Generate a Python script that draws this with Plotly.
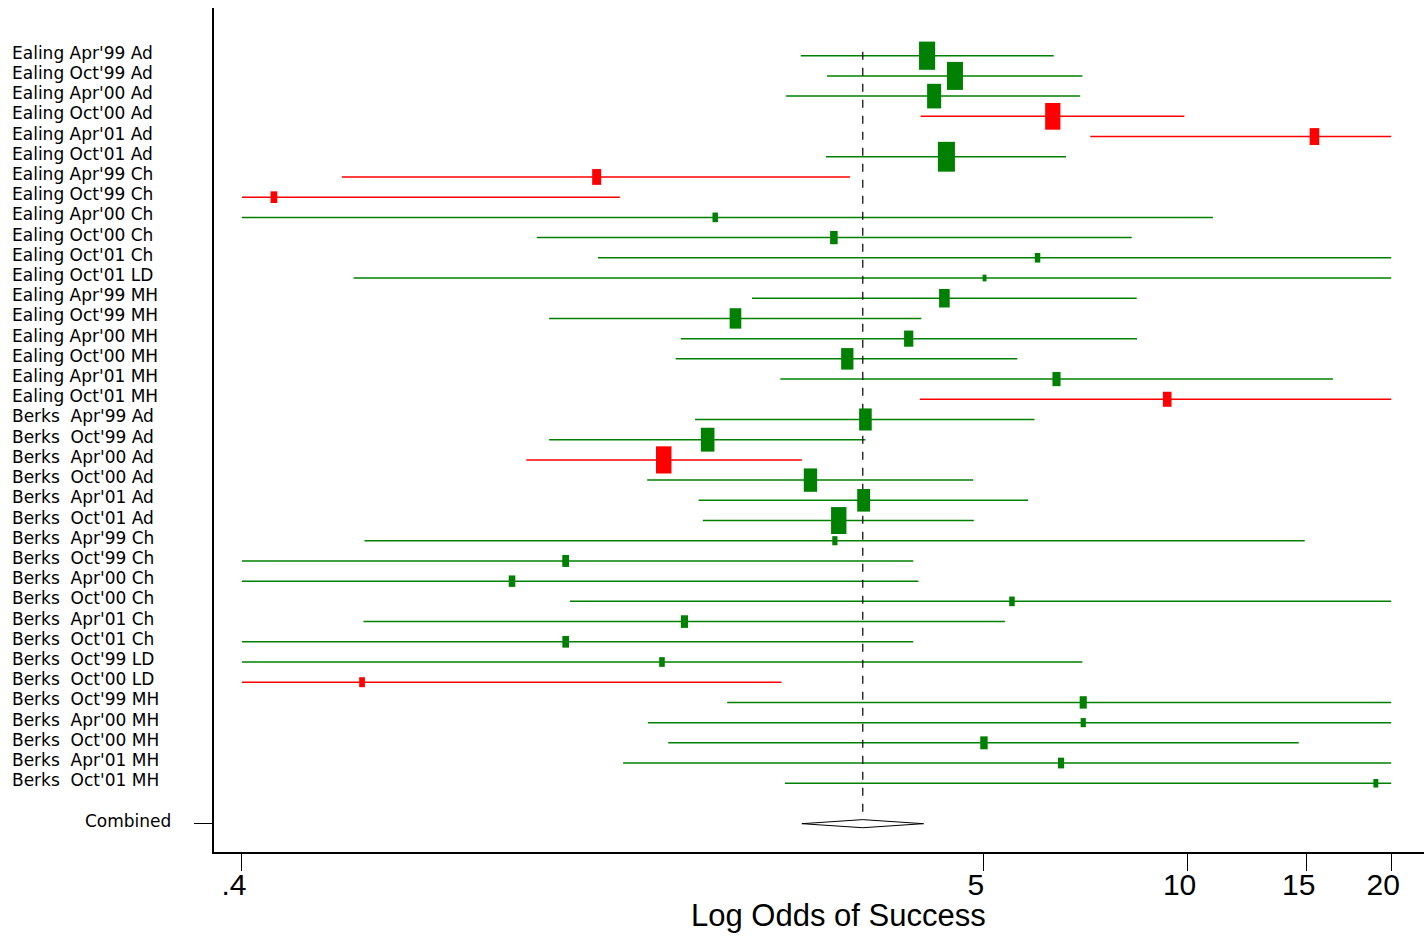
import math
import plotly.graph_objects as go

# ---------------- data ----------------
studies = [
    "Ealing Apr'99 Ad", "Ealing Oct'99 Ad", "Ealing Apr'00 Ad", "Ealing Oct'00 Ad",
    "Ealing Apr'01 Ad", "Ealing Oct'01 Ad", "Ealing Apr'99 Ch", "Ealing Oct'99 Ch",
    "Ealing Apr'00 Ch", "Ealing Oct'00 Ch", "Ealing Oct'01 Ch", "Ealing Oct'01 LD",
    "Ealing Apr'99 MH", "Ealing Oct'99 MH", "Ealing Apr'00 MH", "Ealing Oct'00 MH",
    "Ealing Apr'01 MH", "Ealing Oct'01 MH",
    "Berks  Apr'99 Ad", "Berks  Oct'99 Ad", "Berks  Apr'00 Ad", "Berks  Oct'00 Ad",
    "Berks  Apr'01 Ad", "Berks  Oct'01 Ad", "Berks  Apr'99 Ch", "Berks  Oct'99 Ch",
    "Berks  Apr'00 Ch", "Berks  Oct'00 Ch", "Berks  Apr'01 Ch", "Berks  Oct'01 Ch",
    "Berks  Oct'99 LD", "Berks  Oct'00 LD", "Berks  Oct'99 MH", "Berks  Apr'00 MH",
    "Berks  Oct'00 MH", "Berks  Apr'01 MH", "Berks  Oct'01 MH",
]
estimate = [4.12, 4.53, 4.22, 6.32, 15.4, 4.40, 1.338, 0.446, 2.003, 3.00, 6.00, 5.01,
            4.37, 2.146, 3.87, 3.14, 6.40, 9.33,
            3.34, 1.952, 1.681, 2.77, 3.32, 3.05, 3.01, 1.204, 1.003, 5.50, 1.804, 1.204,
            1.671, 0.602, 7.01, 7.01, 5.00, 6.50, 18.98]
lower = [2.68, 2.93, 2.55, 4.03, 7.18, 2.92, 0.562, 0.4, 0.4, 1.091, 1.344, 0.585,
         2.27, 1.138, 1.781, 1.751, 2.50, 4.02,
         1.87, 1.138, 1.053, 1.589, 1.893, 1.92, 0.607, 0.4, 0.4, 1.221, 0.605, 0.4,
         0.4, 0.4, 2.086, 1.593, 1.707, 1.464, 2.54]
upper = [6.34, 6.99, 6.94, 9.89, 20, 6.61, 3.17, 1.448, 10.90, 8.27, 20, 20,
         8.41, 4.04, 8.42, 5.60, 16.4, 20,
         5.94, 3.34, 2.69, 4.82, 5.81, 4.83, 14.9, 3.93, 4.00, 20, 5.37, 3.93,
         6.99, 2.51, 20, 20, 14.6, 20, 20]
weight = [6.7, 6.6, 5.1, 6.0, 2.4, 7.5, 2.1, 1.15, 0.78, 1.48, 0.78, 0.39,
          2.9, 3.5, 2.2, 3.9, 1.7, 1.9,
          4.1, 4.8, 6.2, 4.6, 4.3, 6.1, 0.70, 1.2, 1.1, 0.78, 1.34, 1.15,
          0.80, 0.84, 1.3, 0.70, 1.42, 0.97, 0.62]
flagged = [0, 0, 0, 1, 1, 0, 1, 1, 0, 0, 0, 0,
           0, 0, 0, 0, 0, 1,
           0, 0, 1, 0, 0, 0, 0, 0, 0, 0, 0, 0,
           0, 1, 0, 0, 0, 0, 0]
combined_label = "Combined"
combined = {"est": 3.31, "lo": 2.69, "hi": 4.07}
tick_vals = [0.4, 5, 10, 15, 20]
tick_text = [".4", "5", "10", "15", "20"]
x_title = "Log Odds of Success"

GREEN = "#008000"
RED = "#ff0000"
FONT = "Liberation Sans, Arial, sans-serif"
LABEL_FONT = "DejaVu Sans, Liberation Sans, sans-serif"

# ---------------- layout constants ----------------
W, H = 1426, 937
L_PX, R_PX, T_PX, B_PX = 214, 1424, 8, 852
n = len(studies)
comb_row = n + 1

fig = go.Figure()

# CI lines
for flag, col in ((0, GREEN), (1, RED)):
    xs, ys = [], []
    for i in range(n):
        if flagged[i] == flag:
            xs += [lower[i], upper[i], None]
            ys += [i, i, None]
    fig.add_trace(go.Scatter(x=xs, y=ys, mode="lines",
                             line=dict(color=col, width=1.5),
                             hoverinfo="skip", showlegend=False))

# reference dashed line at combined estimate
fig.add_trace(go.Scatter(x=[combined["est"], combined["est"]], y=[-0.2, comb_row - 0.2],
                         mode="lines", line=dict(color="black", width=1.2, dash="8px,8px"),
                         hoverinfo="skip", showlegend=False))

# weighted boxes (rectangles drawn as thick vertical line markers)
aspect = 0.8
heights = [math.sqrt(w * 48.5 / aspect) for w in weight]
widths = [h * aspect for h in heights]
cols = [RED if f else GREEN for f in flagged]
fig.add_trace(go.Scatter(x=estimate, y=list(range(n)), mode="markers",
                         marker=dict(symbol="line-ns", size=heights, color=cols, opacity=1,
                                     line=dict(width=widths, color=cols)),
                         hoverinfo="x", showlegend=False))

# combined diamond
dh = 0.2
fig.add_trace(go.Scatter(
    x=[combined["lo"], combined["est"], combined["hi"], combined["est"], combined["lo"]],
    y=[comb_row, comb_row - dh, comb_row, comb_row + dh, comb_row],
    mode="lines", fill="toself", fillcolor="white",
    line=dict(color="black", width=1), hoverinfo="skip", showlegend=False))

# study labels
pw = R_PX - L_PX
for i, s in enumerate(studies):
    fig.add_annotation(x=(12 - L_PX) / pw, xref="paper", y=i, yref="y",
                       text=s, showarrow=False, xanchor="left", yanchor="middle",
                       xshift=-2, yshift=3, font=dict(family=LABEL_FONT, size=17, color="black"))
fig.add_annotation(x=(171 - L_PX) / pw, xref="paper", y=comb_row, yref="y",
                   text=combined_label, showarrow=False, xanchor="right", yanchor="middle",
                   xshift=2, yshift=3, font=dict(family=LABEL_FONT, size=17, color="black"))
# x title
fig.add_annotation(x=(838 - L_PX) / pw, xref="paper", y=-(916 - B_PX) / (B_PX - T_PX),
                   yref="paper", text=x_title, showarrow=False, xanchor="center",
                   yanchor="middle", font=dict(family=FONT, size=31, color="black"))

row_pitch = 20.21
y_top = (T_PX - 55.7) / row_pitch
y_bot = (B_PX - 55.7) / row_pitch

fig.update_layout(
    width=W, height=H, autosize=False,
    margin=dict(l=L_PX, r=W - R_PX, t=T_PX, b=H - B_PX, pad=0),
    paper_bgcolor="white", plot_bgcolor="white",
    font=dict(family=FONT, color="black"),
    xaxis=dict(type="log", range=[math.log10(0.3637), math.log10(22.36)],
               tickmode="array", tickvals=tick_vals, ticktext=tick_text,
               ticks="outside", ticklen=17, tickwidth=1.2, tickcolor="black",
               tickfont=dict(size=30, family=FONT),
               ticklabelshift=-8, ticklabelstandoff=-12,
               showline=True, linecolor="black", linewidth=1.5,
               showgrid=False, zeroline=False, mirror=False, automargin=False),
    yaxis=dict(range=[y_bot, y_top], tickmode="array", tickvals=[comb_row], ticktext=[""],
               ticks="outside", ticklen=18, tickwidth=1.2, tickcolor="black",
               showline=True, linecolor="black", linewidth=1.5,
               showgrid=False, zeroline=False, mirror=False, automargin=False),
)

fig.write_html("out.html", config={"displayModeBar": False},
               post_script="document.body.style.margin='0';document.body.style.overflow='hidden';")
